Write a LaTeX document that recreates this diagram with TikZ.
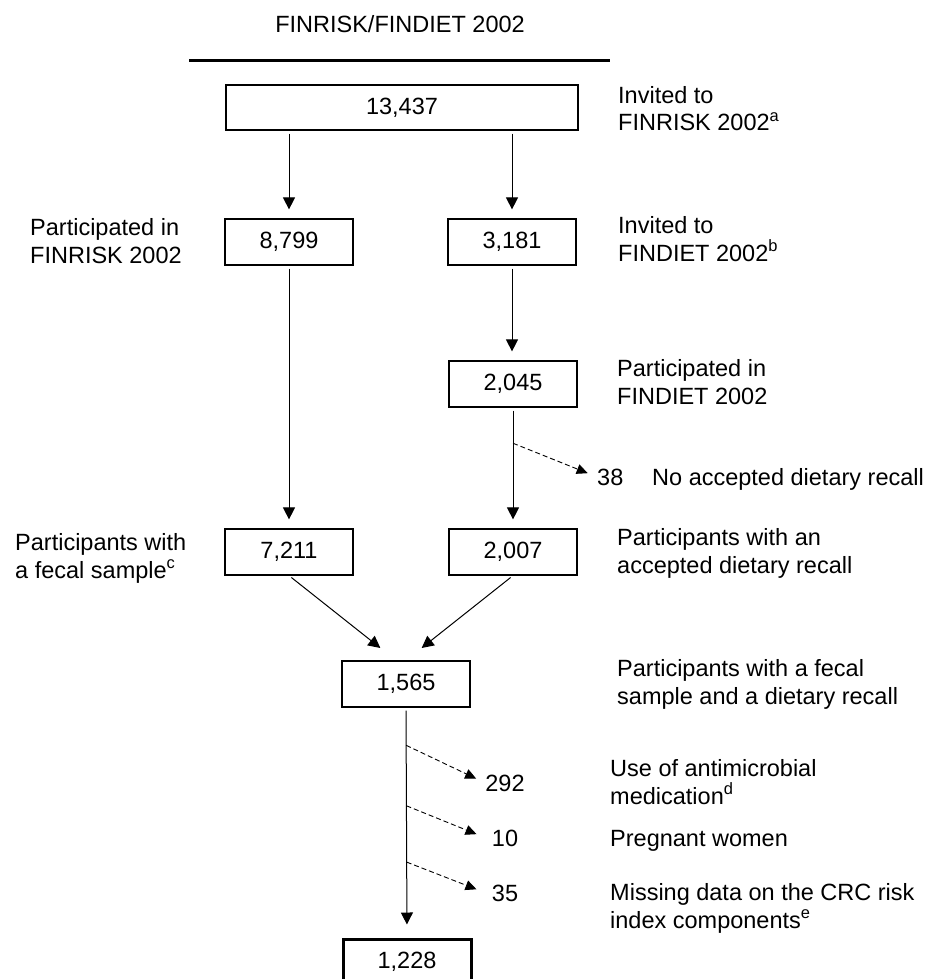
\documentclass[tikz,border=0pt]{standalone}
\usepackage{fontspec}
\setmainfont{Liberation Sans}
\usetikzlibrary{arrows.meta,calc}

\begin{document}
\begin{tikzpicture}[x=1pt,y=-1pt,
  font=\fontsize{23.5}{28}\selectfont,
  numbox/.style={draw=black,line width=1.2pt,minimum width=128pt,minimum height=46pt,inner sep=0pt},
  lbl/.style={anchor=base west,align=left,inner sep=0pt},
  cnt/.style={anchor=base,minimum width=38pt,inner sep=0pt},
  arr/.style={line width=1pt,-{Triangle[length=12pt,width=12pt]},shorten <=3pt,shorten >=9pt},
  exc/.style={line width=0.9pt,dash pattern=on 5pt off 3pt,-{Triangle[length=11pt,width=10pt]},shorten >=10pt}]

  \useasboundingbox (0,0) rectangle (939,979);

  % title and rule
  \node[anchor=base] (title) at (400,33) {FINRISK/FINDIET 2002};
  \coordinate (ruleL) at (189,61);
  \coordinate (ruleR) at (610,61);
  \draw[line width=3pt] (ruleL) -- (ruleR);

  % boxes
  \node[numbox,minimum width=352pt,minimum height=45pt] (n13437) at (402,107.5) {13,437};
  \node[numbox] (n8799) at (289,242) {8,799};
  \node[numbox] (n3181) at (512,242) {3,181};
  \node[numbox] (n2045) at (513,384) {2,045};
  \node[numbox] (n7211) at (289,552) {7,211};
  \node[numbox] (n2007) at (513,552) {2,007};
  \node[numbox] (n1565) at (406,684) {1,565};
  \node[numbox,line width=3pt] (n1228) at (407,962) {1,228};

  % labels (base = last line)
  \node[lbl] (lInvRisk) at (618,131) {Invited to\\FINRISK 2002\textsuperscript{a}};
  \node[lbl] (lPartRisk) at (30,263) {Participated in\\FINRISK 2002};
  \node[lbl] (lInvDiet) at (618,261) {Invited to\\FINDIET 2002\textsuperscript{b}};
  \node[lbl] (lPartDiet) at (617,404) {Participated in\\FINDIET 2002};
  \node[lbl] (lRecall) at (617,573) {Participants with an\\accepted dietary recall};
  \node[lbl] (lFecal) at (15,578) {Participants with\\a fecal sample\textsuperscript{c}};
  \node[lbl] (lBoth) at (617,704) {Participants with a fecal\\sample and a dietary recall};

  % exclusions
  \node[anchor=base west,inner sep=0pt] (n38) at (597,485) {38};
  \node[lbl] (lNoRecall) at (652,485) {No accepted dietary recall};
  \node[cnt] (n292) at (505,791) {292};
  \node[lbl] (lAnti) at (610,804) {Use of antimicrobial\\medication\textsuperscript{d}};
  \node[cnt] (n10) at (505,846) {10};
  \node[lbl] (lPreg) at (610,846) {Pregnant women};
  \node[cnt] (n35) at (505,901) {35};
  \node[lbl] (lMiss) at (610,928) {Missing data on the CRC risk\\index components\textsuperscript{e}};

  % arrows
  \draw[arr] (n13437.south -| n8799.north) -- (n8799.north);
  \draw[arr] (n13437.south -| n3181.north) -- (n3181.north);
  \draw[arr] (n8799.south) -- (n7211.north);
  \draw[arr] (n3181.south) -- (n3181.south |- n2045.north);
  \draw[arr] (n2045.south) -- (n2007.north);
  \draw[arr,shorten >=20pt] (n7211.south) -- ([xshift=-10pt]n1565.north);
  \draw[arr,shorten >=20pt] (n2007.south) -- (n1565.north);
  \draw[arr,shorten >=13pt] (n1565.south) -- (n1228.north);

  % dashed exclusion arrows
  \coordinate (x38) at ($(n2045.south)!0.295!(n2007.north)$);
  \coordinate (x292) at ($(n1565.south)!0.164!(n1228.north)$);
  \coordinate (x10) at ($(n1565.south)!0.427!(n1228.north)$);
  \coordinate (x35) at ($(n1565.south)!0.672!(n1228.north)$);
  \draw[exc] (x38) -- (n38.west);
  \draw[exc] (x292) -- (n292.west);
  \draw[exc] (x10) -- (n10.west);
  \draw[exc] (x35) -- (n35.west);

\end{tikzpicture}
\end{document}
